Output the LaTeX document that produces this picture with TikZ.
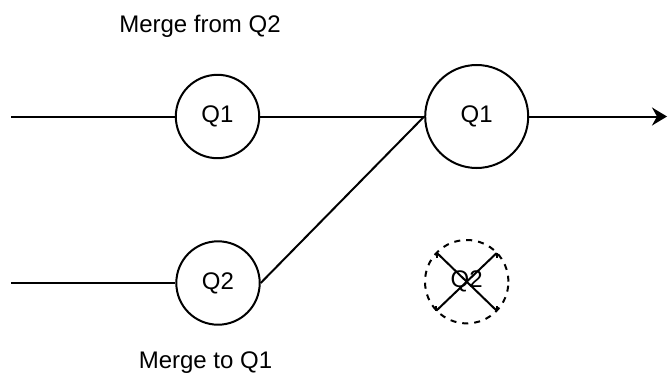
\documentclass[tikz,border=0pt]{standalone}
\usepackage{fontspec}
\setmainfont{Liberation Sans}
\usetikzlibrary{arrows.meta}
\begin{document}
\begin{tikzpicture}[x=0.5pt,y=-0.5pt,
  line width=1pt,
  queue/.style={draw,circle,inner sep=0pt,minimum size=41.7pt,font=\fontsize{12}{14}\selectfont},
  bigqueue/.style={queue,minimum size=51.5pt},
  gone/.style={queue,dashed,dash pattern=on 3pt off 3pt},
  caption/.style={anchor=base,inner sep=0pt,font=\fontsize{12}{14}\selectfont},
  flow/.style={draw},
  result/.style={draw,-{Stealth[length=7.5pt,width=9pt,inset=2.5pt]}}]
  \useasboundingbox (0,0) rectangle (668,374);

  % queues
  \node[queue] (q1a) at (217.5,116.5) {Q1};
  \node[queue] (q2a) at (218,283) {Q2};
  \node[bigqueue] (q1b) at (476.7,116.5) {Q1};
  \node[gone] (q2b) at (466.7,281.7) {Q2};

  % captions
  \node[caption] (capfrom) at (200,33) {Merge from Q2};
  \node[caption] (capto) at (205.5,368) {Merge to Q1};

  % free ends of the lines
  \coordinate (in1) at (11,116.5);
  \coordinate (in2) at (11,283);
  \coordinate (out) at (667,116.5);

  % connectors
  \path[flow] (in1) -- (q1a);
  \path[flow] (q1a) -- (q1b);
  \path[flow] (in2) -- (q2a);
  \path[flow] (q2a.east) -- (q1b.west);
  \path[result] (q1b) -- (out);

  % cross over the removed queue
  \coordinate (xtl) at (436.5,252.5);
  \coordinate (xtr) at (496.7,253);
  \coordinate (xbl) at (436.3,310.7);
  \coordinate (xbr) at (497,311);
  \draw (xtl) -- (xbr);
  \draw (xtr) -- (xbl);
  \draw (xtl) -- ++(0,5);
  \draw (xtr) -- ++(0,5);
  \draw (xbl) -- ++(0,-5);
  \draw (xbr) -- ++(0,-5);
\end{tikzpicture}
\end{document}
